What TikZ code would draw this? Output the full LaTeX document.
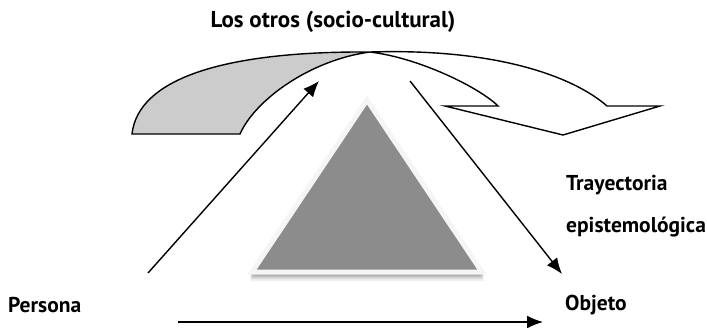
\documentclass[tikz,border=0pt]{standalone}
\usepackage{fontspec}
\setmainfont{PT Sans}
\usetikzlibrary{arrows.meta,positioning}

\begin{document}
\begin{tikzpicture}[x=1pt,y=-1pt,
    label_text/.style ={font=\bfseries\fontsize{21.5}{42}\selectfont,
      inner sep=0pt, align=left},
    ribbon/.style ={draw=black, line width=1.4pt, line join=miter},
    pyramid/.style ={fill=black!45, draw=black!4, line width=5pt,
      line join=miter},
    line/.style ={draw, line width=1.4pt, -{Latex[length=16pt,width=13pt]},
      shorten >=0pt}]
    \useasboundingbox (0,0) rectangle (707,327);
    % texts round the triangle
    \node[label_text, font=\bfseries\fontsize{23}{28}\selectfont] (otros) at (333,22)
      {Los otros (socio-cultural)};
    \node[label_text, anchor=west] (persona) at (8,305) {Persona};
    \node[label_text, anchor=west] (objeto) at (565,305) {Objeto};
    \node[label_text, anchor=west] (trayectoria) at (566,206)
      {Trayectoria\\epistemológica};
    % the twisted ribbon arrow under the title
    \path[ribbon, fill=black!20] (132,134) .. controls (138,80) and (220,51) .. (370,52)
      .. controls (310,60) and (255,100) .. (240,134) -- cycle;
    \path[ribbon, fill=white] (370,52) .. controls (500,48) and (575,78) .. (607,106)
      -- (660,106) -- (563,135) -- (445,106) -- (498,106)
      .. controls (480,88) and (420,58) .. (370,52) -- cycle;
    % the triangle with its soft shadow
    \foreach \d/\o in {9/0.06, 7/0.10, 5/0.14, 3/0.18}
      \fill[black, opacity=\o] (250,272+\d) -- (367,103+\d) -- (484,272+\d) -- cycle;
    \path[pyramid] (252,272) -- (367,100) -- (482,272) -- cycle;
    % ends of the arrows
    \coordinate (up_from) at (148,273);
    \coordinate (up_to) at (319,81);
    \coordinate (down_from) at (410,81);
    \coordinate (down_to) at (562,274);
    \coordinate (base_from) at (178,322);
    \coordinate (base_to) at (543,322);
    \path[line] (up_from) -- (up_to);
    \path[line] (down_from) -- (down_to);
    \path[line] (base_from) -- (base_to);
\end{tikzpicture}
\end{document}
